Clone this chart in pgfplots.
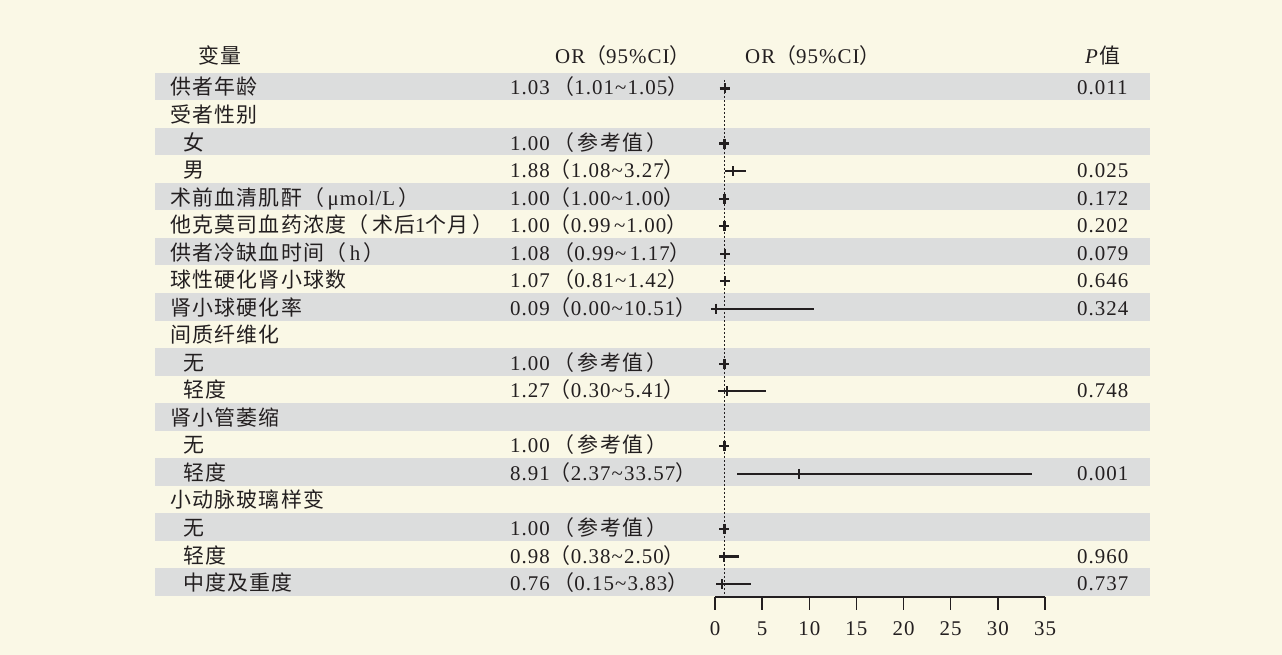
\documentclass[border=0pt]{standalone}
\usepackage{fontspec}
\setmainfont{Liberation Serif}[LetterSpace=5]
\newfontfamily\cjk{Noto Sans CJK SC}[LetterSpace=6]
\usepackage{pgfplots}
\usepackage{pgfplotstable}
\pgfplotsset{compat=1.18}
\definecolor{cream}{HTML}{FAF8E6}
\definecolor{band}{HTML}{DCDDDD}
\definecolor{ink}{HTML}{231F20}
\newcommand\C[1]{{\cjk #1}}
\newcommand\tl{\textasciitilde}

\pgfplotstableread{
row or lo hi
1 1.03 1.01 1.05
3 1.00 1.00 1.00
4 1.88 1.08 3.27
5 1.00 1.00 1.00
6 1.00 0.99 1.00
7 1.08 0.99 1.17
8 1.07 0.81 1.42
9 0.09 0.00 10.51
11 1.00 1.00 1.00
12 1.27 0.30 5.41
14 1.00 1.00 1.00
15 8.91 2.37 33.57
17 1.00 1.00 1.00
18 0.98 0.38 2.50
19 0.76 0.15 3.83
}\ordata

\begin{document}
\begin{tikzpicture}[
  txt/.style={anchor=base west, inner sep=0pt, text=ink, font=\fontsize{21}{24}\selectfont, yshift=-8.5bp},
  txc/.style={anchor=base, inner sep=0pt, text=ink, font=\fontsize{21}{24}\selectfont, yshift=-8.5bp}]
\begin{axis}[
  x=9.42857bp, y=27.53bp, y dir=reverse,
  xmin=-75.833, xmax=60.136, ymin=-2.142, ymax=21.650,
  hide axis, clip=false]
\fill[cream] (rel axis cs:0,0) rectangle (rel axis cs:1,1);
% bands
\fill[band] (axis cs:-59.39,0.5) rectangle (axis cs:46.14,1.5);
\fill[band] (axis cs:-59.39,2.5) rectangle (axis cs:46.14,3.5);
\fill[band] (axis cs:-59.39,4.5) rectangle (axis cs:46.14,5.5);
\fill[band] (axis cs:-59.39,6.5) rectangle (axis cs:46.14,7.5);
\fill[band] (axis cs:-59.39,8.5) rectangle (axis cs:46.14,9.5);
\fill[band] (axis cs:-59.39,10.5) rectangle (axis cs:46.14,11.5);
\fill[band] (axis cs:-59.39,12.5) rectangle (axis cs:46.14,13.5);
\fill[band] (axis cs:-59.39,14.5) rectangle (axis cs:46.14,15.5);
\fill[band] (axis cs:-59.39,16.5) rectangle (axis cs:46.14,17.5);
\fill[band] (axis cs:-59.39,18.5) rectangle (axis cs:46.14,19.5);
% headers
\node[txt] at (axis cs:-54.83,-0.144) {\C{变量}};
\node[txt] at (axis cs:-16.97,-0.144) {OR\C{（}95\%CI\C{）}};
\node[txt] at (axis cs:3.18,-0.144) {OR\C{（}95\%CI\C{）}};
\node[txt] at (axis cs:39.24,-0.144) {\textit{P}\C{值}};
% column 1
\node[txt] at (axis cs:-57.80,1) {\C{供者年龄}};
\node[txt] at (axis cs:-57.80,2) {\C{受者性别}};
\node[txt] at (axis cs:-56.42,3) {\C{女}};
\node[txt] at (axis cs:-56.42,4) {\C{男}};
\node[txt] at (axis cs:-57.80,5) {\C{术前血清肌酐（}\,μmol/L\,\C{）}};
\node[txt] at (axis cs:-57.80,6) {\C{他克莫司血药浓度（}\,\C{术后}1\C{个月}\,\C{）}};
\node[txt] at (axis cs:-57.80,7) {\C{供者冷缺血时间（}\,h\,\C{）}};
\node[txt] at (axis cs:-57.80,8) {\C{球性硬化肾小球数}};
\node[txt] at (axis cs:-57.80,9) {\C{肾小球硬化率}};
\node[txt] at (axis cs:-57.80,10) {\C{间质纤维化}};
\node[txt] at (axis cs:-56.42,11) {\C{无}};
\node[txt] at (axis cs:-56.42,12) {\C{轻度}};
\node[txt] at (axis cs:-57.80,13) {\C{肾小管萎缩}};
\node[txt] at (axis cs:-56.42,14) {\C{无}};
\node[txt] at (axis cs:-56.42,15) {\C{轻度}};
\node[txt] at (axis cs:-57.80,16) {\C{小动脉玻璃样变}};
\node[txt] at (axis cs:-56.42,17) {\C{无}};
\node[txt] at (axis cs:-56.42,18) {\C{轻度}};
\node[txt] at (axis cs:-56.42,19) {\C{中度及重度}};
% column 2
\node[txt] at (axis cs:-21.74,1) {1.03\,\C{（}1.01\tl1.05\C{）}};
\node[txt] at (axis cs:-21.74,3) {1.00\,\C{（}\,\C{参考值}\,\C{）}};
\node[txt] at (axis cs:-21.74,4) {1.88\C{（}1.08\tl3.27\C{）}};
\node[txt] at (axis cs:-21.74,5) {1.00\C{（}1.00\tl1.00\C{）}};
\node[txt] at (axis cs:-21.74,6) {1.00\C{（}0.99\,\tl1.00\C{）}};
\node[txt] at (axis cs:-21.74,7) {1.08\,\C{（}0.99\tl\,1.17\C{）}};
\node[txt] at (axis cs:-21.74,8) {1.07\,\C{（}0.81\tl1.42\C{）}};
\node[txt] at (axis cs:-21.74,9) {0.09\C{（}0.00\tl10.51\C{）}};
\node[txt] at (axis cs:-21.74,11) {1.00\,\C{（}\,\C{参考值}\,\C{）}};
\node[txt] at (axis cs:-21.74,12) {1.27\C{（}0.30\tl5.41\C{）}};
\node[txt] at (axis cs:-21.74,14) {1.00\,\C{（}\,\C{参考值}\,\C{）}};
\node[txt] at (axis cs:-21.74,15) {8.91\C{（}2.37\tl33.57\C{）}};
\node[txt] at (axis cs:-21.74,17) {1.00\,\C{（}\,\C{参考值}\,\C{）}};
\node[txt] at (axis cs:-21.74,18) {0.98\C{（}0.38\tl2.50\C{）}};
\node[txt] at (axis cs:-21.74,19) {0.76\,\C{（}0.15\tl3.83\C{）}};
% P values
\node[txt] at (axis cs:38.39,1) {0.011};
\node[txt] at (axis cs:38.39,4) {0.025};
\node[txt] at (axis cs:38.39,5) {0.172};
\node[txt] at (axis cs:38.39,6) {0.202};
\node[txt] at (axis cs:38.39,7) {0.079};
\node[txt] at (axis cs:38.39,8) {0.646};
\node[txt] at (axis cs:38.39,9) {0.324};
\node[txt] at (axis cs:38.39,12) {0.748};
\node[txt] at (axis cs:38.39,15) {0.001};
\node[txt] at (axis cs:38.39,18) {0.960};
\node[txt] at (axis cs:38.39,19) {0.737};
% reference line
\addplot[ink, line width=1.4bp, dash pattern=on 2bp off 2bp] coordinates {(1,0.76) (1,19.54)};
% bottom axis
\draw[ink, line width=1.5bp] (axis cs:0,19.54) -- (axis cs:35,19.54);
\pgfplotsinvokeforeach{0,5,...,35}{
  \draw[ink, line width=1.5bp] (axis cs:#1,19.54) -- (axis cs:#1,20.02);
  \node[txc] at (axis cs:#1,20.62) {#1};
}
% estimates with CI
\addplot[ink, only marks, yshift=-2bp, mark=+, mark size=5bp, mark options={line width=2.2bp},
  error bars/.cd, x dir=both, x explicit, error mark=none,
  error bar style={line width=2.1bp, ink}]
  table[x=or, y=row, x error plus expr=\thisrow{hi}-\thisrow{or}, x error minus expr=\thisrow{or}-\thisrow{lo}] {\ordata};
\end{axis}
\end{tikzpicture}
\end{document}
